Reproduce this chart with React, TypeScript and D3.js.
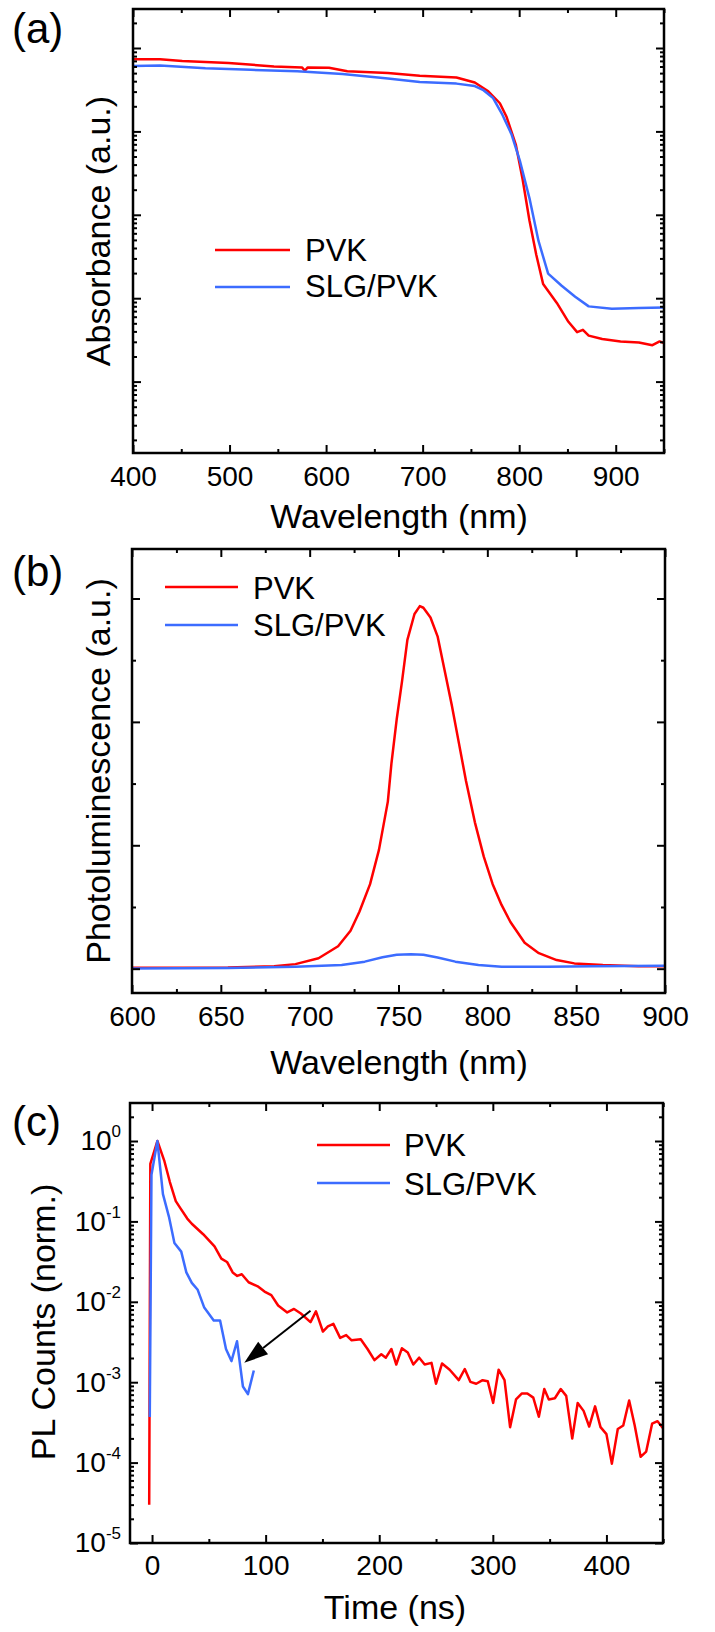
import React, { useEffect, useRef } from 'react';
import * as d3 from 'd3';

type Pt = [number, number];

const FONT = "'Liberation Sans', Arial, Helvetica, sans-serif";
const RED = '#ff0000';
const BLUE = '#3c6cff';
const seriesNames = ['PVK', 'SLG/PVK'];

// (a) absorbance, wavelength (nm) vs a.u. (log axis)
const absPvk: Pt[] = [
  [400, 0.734], [428, 0.734], [451, 0.70], [499, 0.661], [546, 0.601], [575, 0.585],
  [578, 0.536], [581, 0.585], [603, 0.579], [622, 0.526], [664, 0.502], [697, 0.465],
  [735, 0.443], [754, 0.385], [768, 0.303], [780, 0.2175], [787, 0.1487], [796.5, 0.0695],
  [803.5, 0.0269], [810.6, 0.00859], [817.7, 0.00332], [824.8, 0.00148], [839, 0.000878],
  [851, 0.000521], [860, 0.000392], [866, 0.000418], [872, 0.000356], [886, 0.000324],
  [905, 0.000303], [924, 0.000294], [938, 0.000273], [945.5, 0.000303], [950, 0.000289],
];
const absSlg: Pt[] = [
  [400, 0.607], [428, 0.618], [475, 0.573], [522, 0.547], [570, 0.526], [617, 0.488],
  [664, 0.431], [697, 0.392], [735, 0.374], [754, 0.35], [763, 0.312], [773, 0.251],
  [782, 0.1635], [792, 0.0925], [801, 0.0433], [811, 0.0152], [820, 0.00486], [830, 0.00197],
  [844, 0.00141], [858, 0.00104], [872, 0.000798], [896, 0.000747], [924, 0.000761], [950, 0.000776],
];

// (b) photoluminescence
const plPvk: Pt[] = [
  [600, 0.007], [654, 0.009], [680, 0.02], [692, 0.037], [705, 0.085], [716, 0.182],
  [723, 0.308], [728, 0.461], [734, 0.685], [739, 0.963], [744, 1.354], [746, 1.66],
  [749, 2.023], [752, 2.33], [755, 2.665], [759, 2.874], [762, 2.938], [764, 2.925],
  [768, 2.846], [772, 2.693], [776, 2.414], [780, 2.135], [784, 1.828], [788, 1.521],
  [793, 1.186], [798, 0.908], [803, 0.685], [808, 0.517], [813, 0.378], [821, 0.21],
  [829, 0.126], [839, 0.07], [849, 0.043], [865, 0.029], [885, 0.02], [900, 0.02],
];
const plSlg: Pt[] = [
  [600, 0.001], [654, 0.0065], [692, 0.015], [718, 0.029], [731, 0.057], [741, 0.093],
  [749, 0.113], [757, 0.118], [764, 0.113], [772, 0.09], [782, 0.057], [795, 0.029],
  [808, 0.015], [834, 0.015], [859, 0.02], [900, 0.024],
];

// (c) time-resolved PL, ns vs normalised counts
const trPvk: Pt[] = [
  [-2.5, 3.0e-5], [-1.5, 0.52], [4.7, 1.0], [10.9, 0.561], [15.7, 0.309], [20.9, 0.179],
  [24.9, 0.146], [31, 0.1085], [35, 0.0935], [45, 0.0693], [55, 0.049], [61, 0.0345],
  [66, 0.0313], [71, 0.0232], [75, 0.021], [79, 0.022], [85, 0.0175], [93, 0.0156],
  [99, 0.0134], [105, 0.0121], [111, 0.009], [119, 0.00738], [125, 0.00815], [131, 0.00716],
  [139.5, 0.00558], [144.3, 0.0076], [150.4, 0.00427], [154.8, 0.00495], [159.6, 0.00531],
  [165.6, 0.00356], [170.9, 0.00386], [175.7, 0.00332], [183.7, 0.00342], [189.7, 0.00259],
  [195.8, 0.00188], [201.8, 0.00223], [205.8, 0.00202], [210.7, 0.00259], [215, 0.00166],
  [219.9, 0.00264], [225.1, 0.00234], [230, 0.00166], [235.2, 0.00202], [240, 0.00166],
  [246, 0.00174], [250, 0.000957], [255.3, 0.00171], [262, 0.00143], [270, 0.00106],
  [275.3, 0.00146], [280.2, 0.00101], [285.4, 0.000957], [291, 0.00106], [295.5, 0.00103],
  [300.3, 0.000553], [305.1, 0.00143], [310.3, 0.00106], [315.2, 0.000276], [320.4, 0.000611],
  [325.6, 0.000724], [330.4, 0.000724], [335.6, 0.000643], [340.5, 0.000372], [345.3, 0.000824],
  [349.3, 0.000611], [354.6, 0.000631], [359.8, 0.000824], [364.6, 0.000676], [369.9, 0.000199],
  [374.7, 0.000553], [379.9, 0.00044], [384.8, 0.000281], [390, 0.000501], [394.8, 0.000276],
  [400, 0.000226], [404.8, 0.000097], [410, 0.000262], [414.8, 0.00029], [420, 0.000593],
  [424.9, 0.00029], [430.1, 0.000118], [435, 0.000137], [440.2, 0.000305], [445, 0.000327],
  [449.8, 0.000267],
];
const trSlg: Pt[] = [
  [-2, 3.7e-4], [-0.5, 0.38], [4.7, 1.0], [9.6, 0.218], [14.9, 0.114], [19.7, 0.054],
  [25.7, 0.0421], [30.2, 0.0232], [35, 0.0172], [40.2, 0.0141], [45.8, 0.00857],
  [54.3, 0.00586], [59.9, 0.00586], [65.1, 0.00259], [69.9, 0.00183], [74.8, 0.00323],
  [80, 0.000884], [84.4, 0.00071], [89.6, 0.0014],
];
// arrow in (c): from [t, counts] to [t, counts]
const trArrow: Pt[] = [[139.5, 0.00775], [81.2, 0.00174]];

// ticks
const absXMajor = [400, 500, 600, 700, 800, 900];
const absXMinor = [450, 550, 650, 750, 850, 950];
const absYMajor = [1e-4, 1e-3, 1e-2, 1e-1, 1];
const plXMajor = [600, 650, 700, 750, 800, 850, 900];
const plXMinor = [625, 675, 725, 775, 825, 875];
const plYMajor = [0, 1, 2, 3];
const plYMinor = [0.5, 1.5, 2.5];
const trXMajor = [0, 100, 200, 300, 400];
const trXMinor = [50, 150, 250, 350, 450];
const trYMajor = [1e-5, 1e-4, 1e-3, 1e-2, 1e-1, 1];

const logMinor = (lo: number, hi: number) => {
  const out: number[] = [];
  for (let k = -6; k <= 1; k++) {
    for (let m = 2; m <= 9; m++) {
      const v = m * Math.pow(10, k);
      if (v >= lo && v <= hi) out.push(v);
    }
  }
  return out;
};

function drawFrame(g: any, x: any, y: any, o: any) {
  const [x0, x1] = x.range();
  const [yb, yt] = y.range();
  const pad = o.pad ?? 13;
  const put = (axis: any, tf: string, vals: number[], size: number, fmt: any) => {
    const a = g.append('g').attr('transform', tf)
      .call(axis.tickValues(vals).tickSizeInner(-size).tickSizeOuter(0).tickPadding(pad)
        .tickFormat(fmt || (() => '')));
    a.select('.domain').remove();
    a.selectAll('line').attr('stroke-width', 2);
    a.attr('font-family', FONT).attr('font-size', 28);
    return a;
  };
  put(d3.axisBottom(x), `translate(0,${yb})`, o.xMajor, 8, (d: number) => String(d));
  put(d3.axisBottom(x), `translate(0,${yb})`, o.xMinor, 4, null);
  put(d3.axisTop(x), `translate(0,${yt})`, o.xMajor, 8, null);
  put(d3.axisTop(x), `translate(0,${yt})`, o.xMinor, 4, null);
  const yl = put(d3.axisLeft(y), `translate(${x0},0)`, o.yMajor, 8, o.yFmt);
  put(d3.axisLeft(y), `translate(${x0},0)`, o.yMinor, 4, null);
  put(d3.axisRight(y), `translate(${x1},0)`, o.yMajor, 8, null);
  put(d3.axisRight(y), `translate(${x1},0)`, o.yMinor, 4, null);
  g.append('rect')
    .attr('x', x0).attr('y', yt).attr('width', x1 - x0).attr('height', yb - yt)
    .attr('fill', 'none').attr('stroke', '#000').attr('stroke-width', 2.5);
  return yl;
}

function drawSeries(g: any, id: string, x: any, y: any, sets: Pt[][]) {
  const [x0, x1] = x.range();
  const [yb, yt] = y.range();
  g.append('clipPath').attr('id', id).append('rect')
    .attr('x', x0).attr('y', yt).attr('width', x1 - x0).attr('height', yb - yt);
  const line = d3.line<Pt>().x(d => x(d[0])).y(d => y(d[1]));
  [RED, BLUE].forEach((c, i) => {
    g.append('path').datum(sets[i]).attr('d', line).attr('fill', 'none')
      .attr('stroke', c).attr('stroke-width', 2.5).attr('stroke-linejoin', 'round')
      .attr('clip-path', `url(#${id})`);
  });
}

function legend(g: any, lx0: number, lx1: number, tx: number, rows: number[], base: number[]) {
  [RED, BLUE].forEach((c, i) => {
    g.append('line').attr('x1', lx0).attr('x2', lx1).attr('y1', rows[i]).attr('y2', rows[i])
      .attr('stroke', c).attr('stroke-width', 2.5);
    g.append('text').attr('x', tx).attr('y', base[i]).attr('font-family', FONT)
      .attr('font-size', 31).text(seriesNames[i]);
  });
}

function label(g: any, txt: string, x: number, y: number, size: number, rot = false, anchor = 'middle') {
  g.append('text')
    .attr('transform', rot ? `translate(${x},${y}) rotate(-90)` : `translate(${x},${y})`)
    .attr('text-anchor', anchor).attr('font-family', FONT).attr('font-size', size).text(txt);
}

const App = () => {
  const svgRef = useRef<SVGSVGElement>(null);

  useEffect(() => {
    const svg = d3.select(svgRef.current);
    svg.selectAll('*').remove();

    // (a)
    const ga = svg.append('g');
    const xa = d3.scaleLinear().domain([400, 950]).range([133, 664]);
    const ya = d3.scaleLog().domain([1.393e-5, 2.935]).range([453, 9]);
    drawSeries(ga, 'clipA', xa, ya, [absPvk, absSlg]);
    drawFrame(ga, xa, ya, { xMajor: absXMajor, xMinor: absXMinor, yMajor: absYMajor, yMinor: logMinor(1.393e-5, 2.935), yFmt: null });
    legend(ga, 215, 290, 305, [250, 287], [261, 297]);
    label(ga, '(a)', 12, 43, 42, false, 'start');
    label(ga, 'Absorbance (a.u.)', 110, 231, 34, true);
    label(ga, 'Wavelength (nm)', 399, 528, 34);

    // (b)
    const gb = svg.append('g');
    const xb = d3.scaleLinear().domain([600, 900]).range([132, 665]);
    const yb = d3.scaleLinear().domain([-0.197, 3.401]).range([993, 549]);
    drawSeries(gb, 'clipB', xb, yb, [plPvk, plSlg]);
    drawFrame(gb, xb, yb, { xMajor: plXMajor, xMinor: plXMinor, yMajor: plYMajor, yMinor: plYMinor, yFmt: null });
    legend(gb, 165, 238, 253, [587, 625], [599, 636]);
    label(gb, '(b)', 12, 586, 42, false, 'start');
    label(gb, 'Photoluminescence (a.u.)', 110, 771, 34, true);
    label(gb, 'Wavelength (nm)', 399, 1074, 34);

    // (c)
    const gc = svg.append('g');
    const xc = d3.scaleLinear().domain([-19.4, 449.8]).range([130, 663]);
    const yc = d3.scaleLog().domain([1e-5, 2.97]).range([1543, 1103]);
    drawSeries(gc, 'clipC', xc, yc, [trPvk, trSlg]);
    const yl = drawFrame(gc, xc, yc, {
      xMajor: trXMajor, xMinor: trXMinor, yMajor: trYMajor, yMinor: logMinor(1e-5, 2.97),
      yFmt: (d: number) => String(d), pad: 12,
    });
    yl.selectAll('text').each(function (this: any, d: any) {
      const t = d3.select(this);
      const e = Math.round(Math.log10(d));
      t.text(null).attr('x', -9);
      t.append('tspan').text('10');
      t.append('tspan').attr('dy', -13).attr('font-size', 17).text(String(e));
    });
    // arrow
    const [p0, p1] = trArrow.map(d => [xc(d[0]), yc(d[1])]);
    const dx = p1[0] - p0[0], dy = p1[1] - p0[1];
    const len = Math.hypot(dx, dy);
    const ux = dx / len, uy = dy / len;
    const hl = 24, hw = 8;
    const bx = p1[0] - ux * hl, by = p1[1] - uy * hl;
    gc.append('line').attr('x1', p0[0]).attr('y1', p0[1]).attr('x2', bx).attr('y2', by)
      .attr('stroke', '#000').attr('stroke-width', 2);
    gc.append('path')
      .attr('d', `M${p1[0]},${p1[1]}L${bx - uy * hw},${by + ux * hw}L${bx + uy * hw},${by - ux * hw}Z`)
      .attr('fill', '#000');
    legend(gc, 317, 390, 404, [1145, 1183], [1156, 1195]);
    label(gc, '(c)', 12, 1136, 42, false, 'start');
    label(gc, 'PL Counts (norm.)', 55, 1322, 34, true);
    label(gc, 'Time (ns)', 395, 1619, 34);
  }, []);

  return (
    <svg ref={svgRef} width={715} height={1632}
      style={{ position: 'absolute', left: 0, top: 0, background: '#fff' }} />
  );
};

export default App;
